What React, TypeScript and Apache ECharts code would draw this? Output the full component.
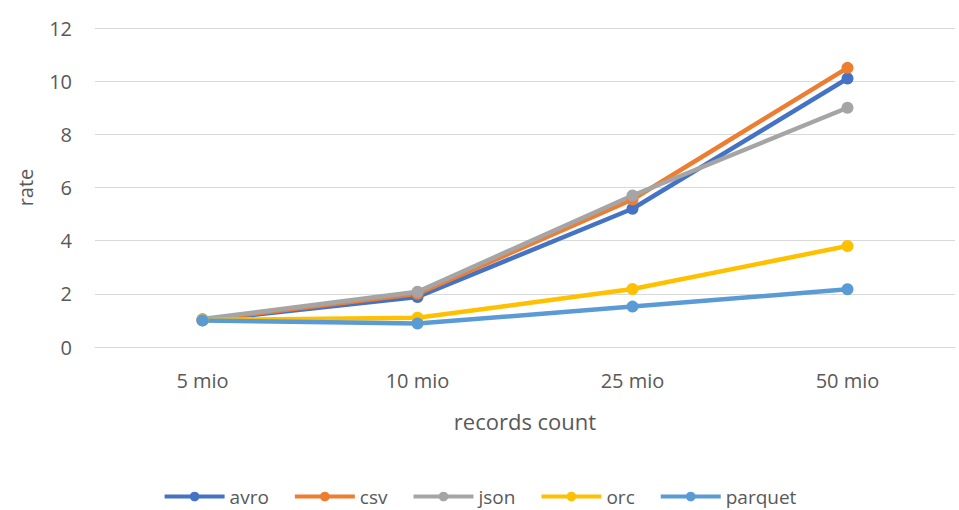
import React, { useEffect, useRef } from "react";
import * as echarts from "echarts";

const categories = ["5 mio", "10 mio", "25 mio", "50 mio"];
const avro = [1.0, 1.88, 5.2, 10.1];
const csv = [1.02, 2.0, 5.55, 10.5];
const json = [1.05, 2.08, 5.7, 9.0];
const orc = [1.02, 1.1, 2.18, 3.8];
const parquet = [1.0, 0.88, 1.52, 2.17];

const seriesDefs = [
  { name: "avro", data: avro, color: "#4472C4" },
  { name: "csv", data: csv, color: "#ED7D31" },
  { name: "json", data: json, color: "#A5A5A5" },
  { name: "orc", data: orc, color: "#FFC000" },
  { name: "parquet", data: parquet, color: "#5B9BD5" },
];

const FONT = "'Open Sans', 'Noto Sans', sans-serif";
const TEXT = "#595959";

export default function App() {
  const ref = useRef<HTMLDivElement>(null);

  useEffect(() => {
    document.body.style.margin = "0";
    if (!ref.current) return;
    const chart = echarts.init(ref.current, undefined, { renderer: "svg" });
    chart.setOption({
      animation: false,
      backgroundColor: "#ffffff",
      textStyle: { fontFamily: FONT },
      grid: { left: 95, right: 4, top: 28, bottom: 163 },
      legend: {
        top: 482,
        left: "center",
        itemWidth: 60,
        itemHeight: 12,
        itemGap: 24,
        lineStyle: { width: 4 },
        textStyle: { color: TEXT, fontSize: 19, fontFamily: FONT },
        data: seriesDefs.map((s) => s.name),
      },
      xAxis: {
        type: "category",
        data: categories,
        boundaryGap: true,
        name: "records count",
        nameLocation: "middle",
        nameGap: 63,
        nameTextStyle: { color: TEXT, fontSize: 22, fontFamily: FONT },
        axisLine: { show: true, lineStyle: { color: "#d9d9d9", width: 1 } },
        axisTick: { show: false },
        axisLabel: { color: TEXT, fontSize: 20, margin: 23, fontFamily: FONT },
      },
      yAxis: {
        type: "value",
        min: 0,
        max: 12,
        interval: 2,
        name: "rate",
        nameLocation: "middle",
        nameGap: 60,
        nameRotate: 90,
        nameTextStyle: { color: TEXT, fontSize: 20, fontFamily: FONT },
        axisLine: { show: false },
        axisTick: { show: false },
        axisLabel: { color: TEXT, fontSize: 20, margin: 23, fontFamily: FONT },
        splitLine: { lineStyle: { color: "#d9d9d9", width: 1 } },
      },
      series: seriesDefs.map((s) => ({
        name: s.name,
        type: "line",
        data: s.data,
        symbol: "circle",
        symbolSize: 12,
        color: s.color,
        lineStyle: { width: 4.5, color: s.color },
        itemStyle: { color: s.color },
      })),
    });
    return () => chart.dispose();
  }, []);

  return <div ref={ref} style={{ width: 959, height: 510 }} />;
}
